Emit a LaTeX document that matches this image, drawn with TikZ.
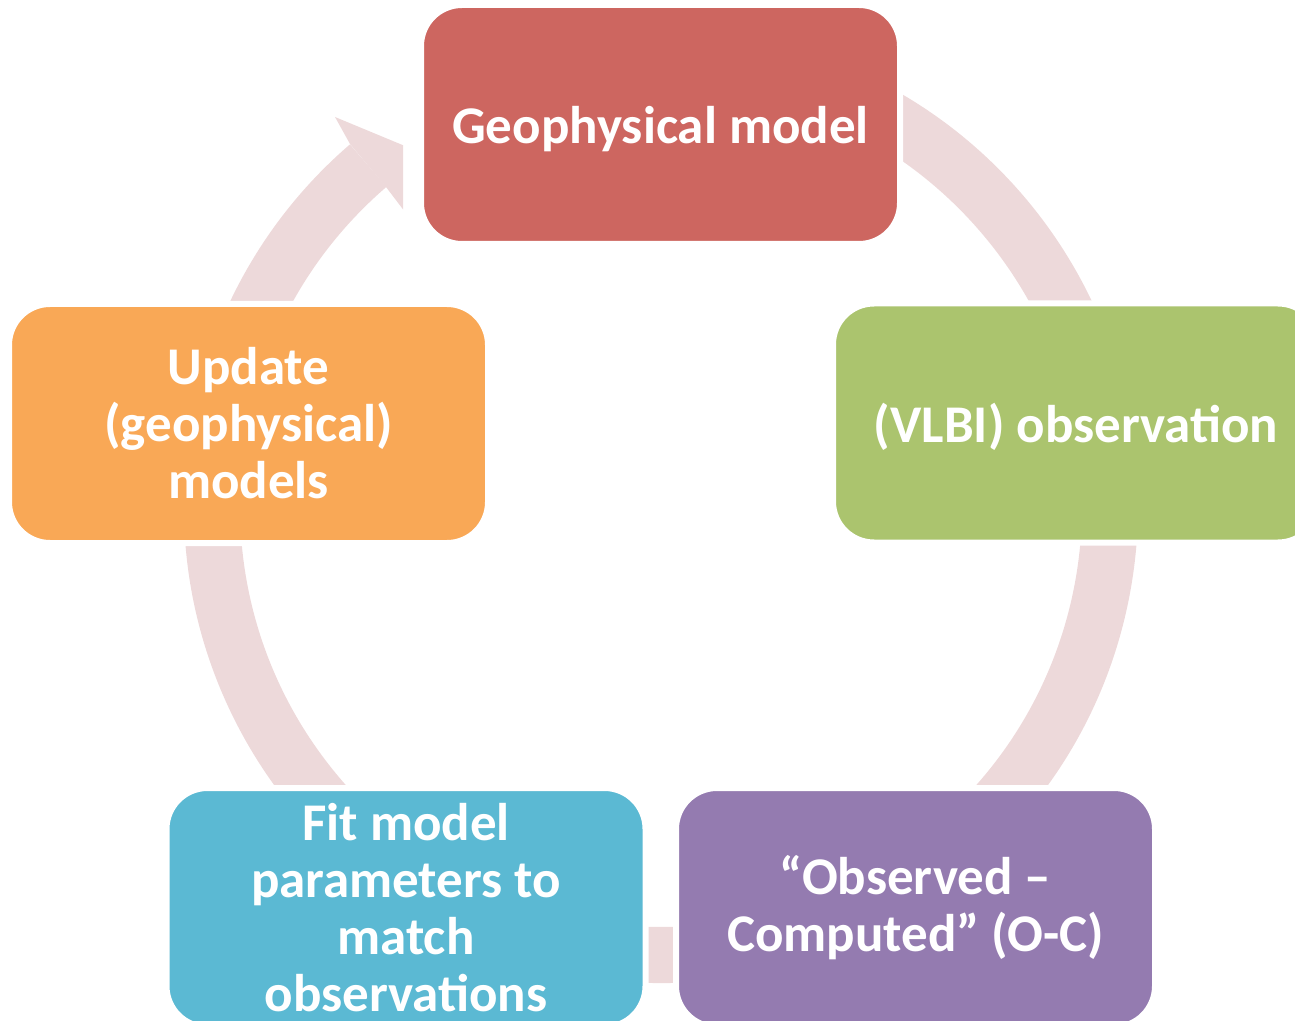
\documentclass[tikz,border=0pt]{standalone}
\usepackage{fontspec}
\setmainfont{Carlito}
\definecolor{ringpink}{HTML}{EDD9DA}
\definecolor{geored}{HTML}{CD6660}
\definecolor{vlbigreen}{HTML}{ABC46E}
\definecolor{ocpurple}{HTML}{947BB0}
\definecolor{fitcyan}{HTML}{5BB9D3}
\definecolor{updorange}{HTML}{F9A856}
\begin{document}
\begin{tikzpicture}[x=0.5pt,y=0.5pt,
  box/.style={rectangle,rounded corners=20.5pt,draw=white,line width=3pt,
    minimum width=239.5pt,minimum height=119.5pt,inner sep=2pt,align=center,
    text=white,font=\fontsize{26.5}{28.5}\selectfont\bfseries}]
\useasboundingbox (0,0) rectangle (1295,-1021);
\clip (0,0) rectangle (1295,-1021);
% ring
\fill[ringpink] (661,-506) ++(80:477) arc[start angle=80,end angle=-229.3,radius=477]
  -- ++(310.7:56) arc[start angle=-229.3,end angle=80,radius=421] -- cycle;
% arrow head, cut before the top box
\begin{scope}
\clip (0,0) rectangle (403,-300);
\fill[ringpink] (350,-144) -- (335,-117) -- (470,-173) -- (405,-212) -- (386,-187) -- cycle;
\end{scope}
% steps
\node[box,fill=geored,text depth=0pt] (geo) at (660.5,-124.5) {Geophysical model};
\node[box,fill=vlbigreen,minimum width=243pt,text depth=0pt] (vlbi) at (1076,-423) {(VLBI) observation};
\node[box,fill=ocpurple] (omc) at (915.5,-907.5) {“Observed –\\Computed” (O-C)};
\node[box,fill=fitcyan] (fit) at (406,-907.5) {Fit model\\parameters to\\match\\observations};
\node[box,fill=updorange] (upd) at (248.5,-423.5) {Update\\(geophysical)\\models};
\end{tikzpicture}
\end{document}
